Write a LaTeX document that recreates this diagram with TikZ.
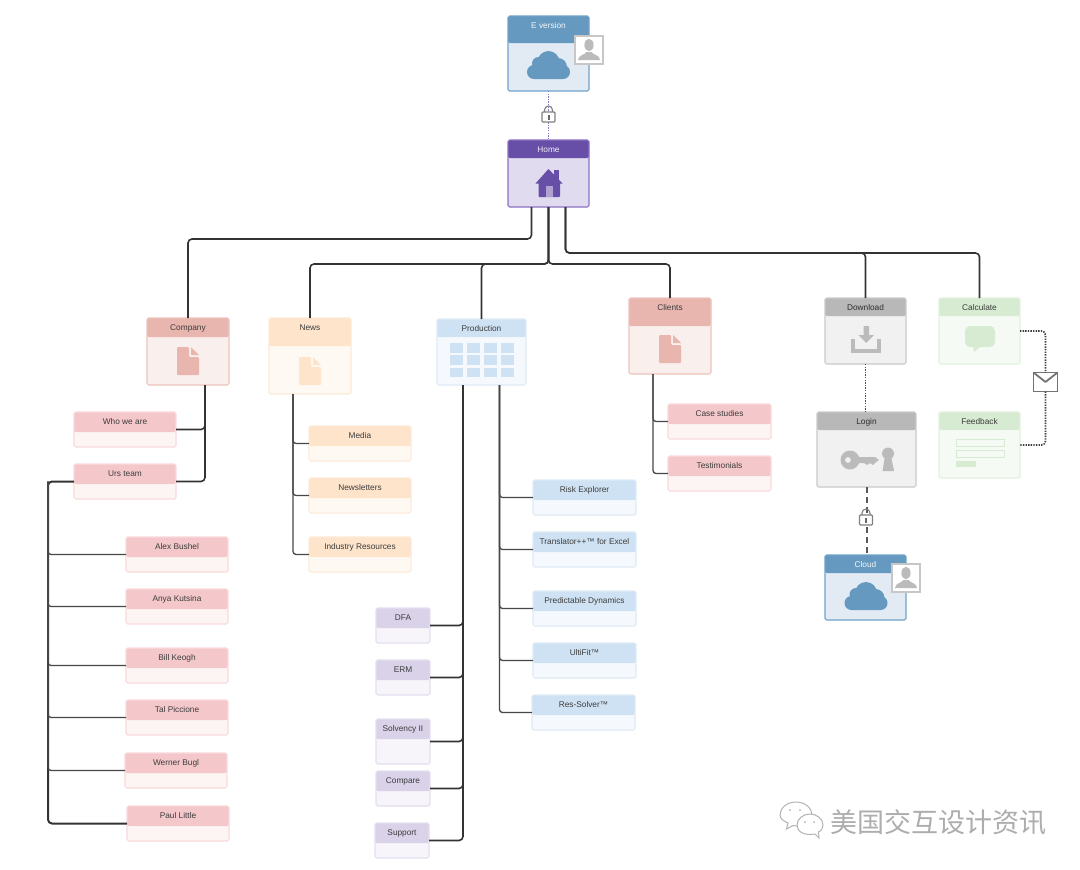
\documentclass[tikz,border=0pt]{standalone}
\usepackage{fontspec}
\setmainfont{Liberation Sans}
\newfontfamily\cjkfont{Noto Sans CJK SC}
\definecolor{pinkHead}{HTML}{F4C8CA}\definecolor{pinkBody}{HTML}{FDF5F4}\definecolor{pinkLine}{HTML}{F9DADB}\definecolor{pinkText}{HTML}{3C3C3C}
\definecolor{roseHead}{HTML}{E8B6AF}\definecolor{roseBody}{HTML}{F9EFED}\definecolor{roseLine}{HTML}{EDC3BD}\definecolor{roseText}{HTML}{3C3C3C}
\definecolor{peachHead}{HTML}{FDE4CA}\definecolor{peachBody}{HTML}{FFF9F3}\definecolor{peachLine}{HTML}{FDEAD8}\definecolor{peachText}{HTML}{3C3C3C}
\definecolor{skyHead}{HTML}{CFE2F3}\definecolor{skyBody}{HTML}{F5F9FD}\definecolor{skyLine}{HTML}{DEEAF6}\definecolor{skyText}{HTML}{3C3C3C}
\definecolor{lilacHead}{HTML}{D9D2E9}\definecolor{lilacBody}{HTML}{F7F4FA}\definecolor{lilacLine}{HTML}{E4DFF0}\definecolor{lilacText}{HTML}{3C3C3C}
\definecolor{greyHead}{HTML}{B8B8B8}\definecolor{greyBody}{HTML}{F1F1F1}\definecolor{greyLine}{HTML}{CACACA}\definecolor{greyText}{HTML}{2C2C2C}
\definecolor{mintHead}{HTML}{D6EBD1}\definecolor{mintBody}{HTML}{F6FAF4}\definecolor{mintLine}{HTML}{E2F1DE}\definecolor{mintText}{HTML}{3C3C3C}
\definecolor{steelHead}{HTML}{6699C0}\definecolor{steelBody}{HTML}{E2EBF4}\definecolor{steelLine}{HTML}{70A2C9}\definecolor{steelText}{HTML}{F2F6FA}
\definecolor{royalHead}{HTML}{674EA7}\definecolor{royalBody}{HTML}{E0DBEE}\definecolor{royalLine}{HTML}{8B72C5}\definecolor{royalText}{HTML}{F2EFF8}
\definecolor{wireCol}{HTML}{333333}
\definecolor{iconGrey}{HTML}{BBBBBB}
\tikzset{
  x=1pt,y=-1pt,
  cardbox/.style={rectangle,rounded corners=1.6pt,line width=1.1pt,inner sep=0pt,outer sep=0pt},
  cardtext/.style={font=\fontsize{8.3}{10}\selectfont,inner sep=0pt},
  wire/.style={draw=wireCol,line width=1.6pt,rounded corners=4pt},
  thinwire/.style={draw=wireCol!90,line width=1.3pt,rounded corners=3pt},
  dotwire/.style={draw=#1,line width=1.6pt,dash pattern=on 1.4pt off 1.2pt,rounded corners=4pt},
  dashwire/.style={draw=#1,line width=2pt,dash pattern=on 6pt off 4pt},
}
% name, left, top, right, bottom, header height, theme, text
\newcommand\card[8]{%
  \node[cardbox,draw=#7Line,fill=#7Body,minimum width={#4-#2},minimum height={#5-#3},
    path picture={\fill[#7Head] (path picture bounding box.north west) rectangle ([yshift=-#6pt]path picture bounding box.north east);}]
    (#1) at ({(#2+#4)/2},{(#3+#5)/2}) {};
  \node[cardtext,text=#7Text] (#1-label) at ({(#2+#4)/2},{#3+10}) {#8};
}
\newcommand\cloudicon[3]{% x y colour
  \begin{scope}[shift={(#1,#2)}]
    \fill[#3,rounded corners=6.9pt] (-21.5,0) rectangle (21.5,14);
    \fill[#3] (-10,-1.5) circle (6.5) (0,-3) circle (11) (9.5,2) circle (9);
  \end{scope}}
\newcommand\usertile[2]{%
  \begin{scope}[shift={(#1,#2)}]
    \fill[white,draw=black!22,line width=1.1pt] (-14,-14) rectangle (14,14);
    \fill[iconGrey] (0,-5) ellipse (4.6 and 6.2);
    \fill[iconGrey] (-11,10) .. controls (-11,5) and (-4,5) .. (-2.5,2) -- (2.5,2) .. controls (4,5) and (11,5) .. (11,10) -- cycle;
  \end{scope}}
\newcommand\lockicon[2]{%
  \begin{scope}[shift={(#1,#2)}]
    \draw[black!50,line width=1.1pt] (-4,0) -- (-4,-3) arc (180:360:4) -- (4,0);
    \fill[white,draw=black!50,line width=1.1pt,rounded corners=1pt] (-6.5,-1) rectangle (6.5,9);
    \fill[black!60] (-1,1.5) rectangle (1,6.5);
  \end{scope}}
\newcommand\pageicon[3]{%
  \begin{scope}[shift={(#1,#2)}]
    \fill[#3,rounded corners=1pt] (0,0) -- (12,0) -- (12,10) -- (22,10) -- (22,28) -- (0,28) -- cycle;
    \fill[#3] (14,0) -- (22,8) -- (14,8) -- cycle;
  \end{scope}}
\begin{document}
\begin{tikzpicture}
\useasboundingbox (0,0) rectangle (1080,870);
\fill[white] (0,0) rectangle (1080,870);
% main cards
\card{eversion}{508}{16}{589}{91}{27}{steel}{E version}
\card{home}{508}{140}{589}{207}{18}{royal}{Home}
\card{company}{147}{318}{229}{385}{19}{rose}{Company}
\card{news}{269}{318}{351}{394}{28}{peach}{News}
\card{production}{437}{319}{526}{385}{18}{sky}{Production}
\card{clients}{629}{298}{711}{374}{28}{rose}{Clients}
\card{download}{825}{298}{906}{364}{18}{grey}{Download}
\card{calculate}{939}{298}{1020}{364}{18}{mint}{Calculate}
\card{login}{817}{412}{916}{487}{18}{grey}{Login}
\card{feedback}{939}{412}{1020}{478}{18}{mint}{Feedback}
\card{cloud}{825}{555}{906}{620}{18}{steel}{Cloud}
% company children
\card{who}{74}{412}{176}{447}{20}{pink}{Who we are}
\card{urs}{74}{464}{176}{499}{20}{pink}{Urs team}
\card{alex}{126}{537}{228}{572}{20}{pink}{Alex Bushel}
\card{anya}{126}{589}{228}{624}{20}{pink}{Anya Kutsina}
\card{bill}{126}{648}{228}{683}{20}{pink}{Bill Keogh}
\card{tal}{126}{700}{228}{735}{20}{pink}{Tal Piccione}
\card{werner}{125}{753}{227}{788}{20}{pink}{Werner Bugl}
\card{paul}{127}{806}{229}{841}{20}{pink}{Paul Little}
% news children
\card{media}{309}{426}{411}{461}{20}{peach}{Media}
\card{newsletters}{309}{478}{411}{513}{20}{peach}{Newsletters}
\card{industry}{309}{537}{411}{572}{20}{peach}{Industry Resources}
% production children
\card{risk}{533}{480}{636}{515}{20}{sky}{Risk Explorer}
\card{translator}{533}{532}{636}{567}{20}{sky}{Translator++™ for Excel}
\card{predictable}{533}{591}{636}{626}{20}{sky}{Predictable Dynamics}
\card{ultifit}{533}{643}{636}{678}{20}{sky}{UltiFit™}
\card{ressolver}{532}{695}{635}{730}{20}{sky}{Res-Solver™}
\card{dfa}{376}{608}{430}{643}{20}{lilac}{DFA}
\card{erm}{376}{660}{430}{695}{20}{lilac}{ERM}
\card{solvency}{376}{719}{430}{764}{20}{lilac}{Solvency II}
\card{compare}{376}{771}{430}{806}{20}{lilac}{Compare}
\card{support}{375}{823}{429}{858}{20}{lilac}{Support}
% clients children
\card{cases}{668}{404}{771}{439}{20}{pink}{Case studies}
\card{testimonials}{668}{456}{771}{491}{20}{pink}{Testimonials}
% envelope
\node[rectangle,draw=black!55,fill=white,line width=1.8pt,minimum width=24pt,minimum height=19pt,inner sep=0pt,outer sep=0pt] (envelope) at (1045.5,382) {};
% connectors from home
\draw[wire] ([xshift=-17pt]home.south) -- ++(0,32) -| (company.north);
\draw[wire] (home.south) -- ++(0,57) -| (news.north);
\draw[wire] (home.south) -- ++(0,57) -| (production.north);
\draw[wire] (home.south) -- ++(0,57) -| (clients.north);
\draw[wire] ([xshift=17pt]home.south) -- ++(0,46) -| (download.north);
\draw[wire] ([xshift=17pt]home.south) -- ++(0,46) -| (calculate.north);
% company
\draw[wire] ([xshift=17pt]company.south) |- (who.east);
\draw[wire] ([xshift=17pt]company.south) |- (urs.east);
\coordinate (teamtrunk) at (48,481.5);
\draw[wire,line width=2pt] (urs.west) -- (teamtrunk) |- (paul.west);
\foreach \c in {alex,anya,bill,tal,werner}{\draw[thinwire] (teamtrunk) |- (\c.west);}
% news
\foreach \c in {media,newsletters,industry}{\draw[thinwire] ([xshift=-17pt]news.south) |- (\c.west);}
% production
\foreach \c in {dfa,erm,solvency,compare,support}{\draw[wire] ([xshift=-18.5pt]production.south) |- (\c.east);}
\foreach \c in {risk,translator,predictable,ultifit,ressolver}{\draw[thinwire] ([xshift=18pt]production.south) |- (\c.west);}
% clients
\foreach \c in {cases,testimonials}{\draw[thinwire] ([xshift=-17pt]clients.south) |- (\c.west);}
% special links
\draw[dotwire=royalLine] (eversion.south) -- (home.north);
\draw[dotwire=black!70] (download.south) -- (download.south |- login.north);
\draw[dashwire=black!65] (login.south) -- (login.south |- cloud.north);
\draw[dotwire=black!75] (calculate.east) -| (envelope.north);
\draw[dotwire=black!75] (envelope.south) |- (feedback.east);
\draw[black!55,line width=1.8pt,line join=round] (envelope.north west) -- (envelope.center) -- (envelope.north east);
% locks
\lockicon{548.5}{113}
\lockicon{866}{516}
% icons
\cloudicon{548.5}{65}{steelHead}
\usertile{589}{50}
\cloudicon{866}{596}{steelHead}
\usertile{906}{578}
% home
\fill[royalHead] (554,170) rectangle (559,182);
\fill[royalHead] (548.5,169) -- (562.5,183.5) -- (535.5,183.5) -- cycle;
\fill[royalHead,rounded corners=0.8pt] (538.5,182) rectangle (560,197);
\fill[royalBody!60!royalHead] (546,186) rectangle (553,197);
% pages
\pageicon{177}{347}{roseHead}
\pageicon{299}{357}{peachHead}
\pageicon{659}{335}{roseHead}
% table
\foreach \i in {0,1,2,3}\foreach \j in {0,1,2}{
  \fill[skyHead] ({450+\i*17},{343+\j*12.3}) rectangle ++(13.4,9.6);}
% download
\draw[iconGrey,line width=4pt] (853,339) -- (853,351) -- (879,351) -- (879,339);
\fill[iconGrey] (863.5,326) -- (869,326) -- (869,335) -- (874,335) -- (866.2,343) -- (858.5,335) -- (863.5,335) -- cycle;
% bubble
\fill[mintHead,rounded corners=5pt] (965,326) rectangle (995,347);
\fill[mintHead] (973,345) -- (974,352) -- (982,345) -- cycle;
% form
\draw[mintHead,line width=1pt,fill=mintBody] (956,439) rectangle (1004,446);
\draw[mintHead,line width=1pt,fill=mintBody] (956,450) rectangle (1004,457);
\fill[mintHead] (956,461) rectangle (976,467);
% key
\fill[iconGrey,even odd rule] (850,460) circle (9.5) (848,460) circle (3);
\fill[iconGrey] (857,457) -- (875,457) -- (879,460) -- (875,463) -- (873,465) -- (870,463) -- (867,465) -- (864,463) -- (857,463) -- cycle;
\fill[iconGrey] (888,453.5) circle (6);
\fill[iconGrey] (885,456) -- (891,456) -- (894,471) -- (882.5,471) -- cycle;
% watermark
\begin{scope}[black!30,line width=1pt]
  \draw[fill=white] (788,823) -- (786.5,829) -- (793,825.5) .. controls (804,828) and (812,822) .. (812,815) .. controls (812,808) and (805,802) .. (796,802) .. controls (787,802) and (780,808) .. (780,815) .. controls (780,818) and (783,821) .. (788,823) -- cycle;
  \draw[fill=white] (815,834) -- (819,838) -- (818.5,832) .. controls (822,830) and (823,828) .. (823,825) .. controls (823,819) and (817,814) .. (810,814) .. controls (803,814) and (797,819) .. (797,825) .. controls (797,831) and (803,836) .. (815,834) -- cycle;
  \fill (790,810) circle (1) (800,810) circle (1) (805,822) circle (1) (814,822) circle (1);
\end{scope}
\node[font=\cjkfont\fontsize{27}{29}\selectfont,text=black!32,inner sep=0pt,anchor=west] (watermark) at (830,822) {美国交互设计资讯};
\end{tikzpicture}
\end{document}
